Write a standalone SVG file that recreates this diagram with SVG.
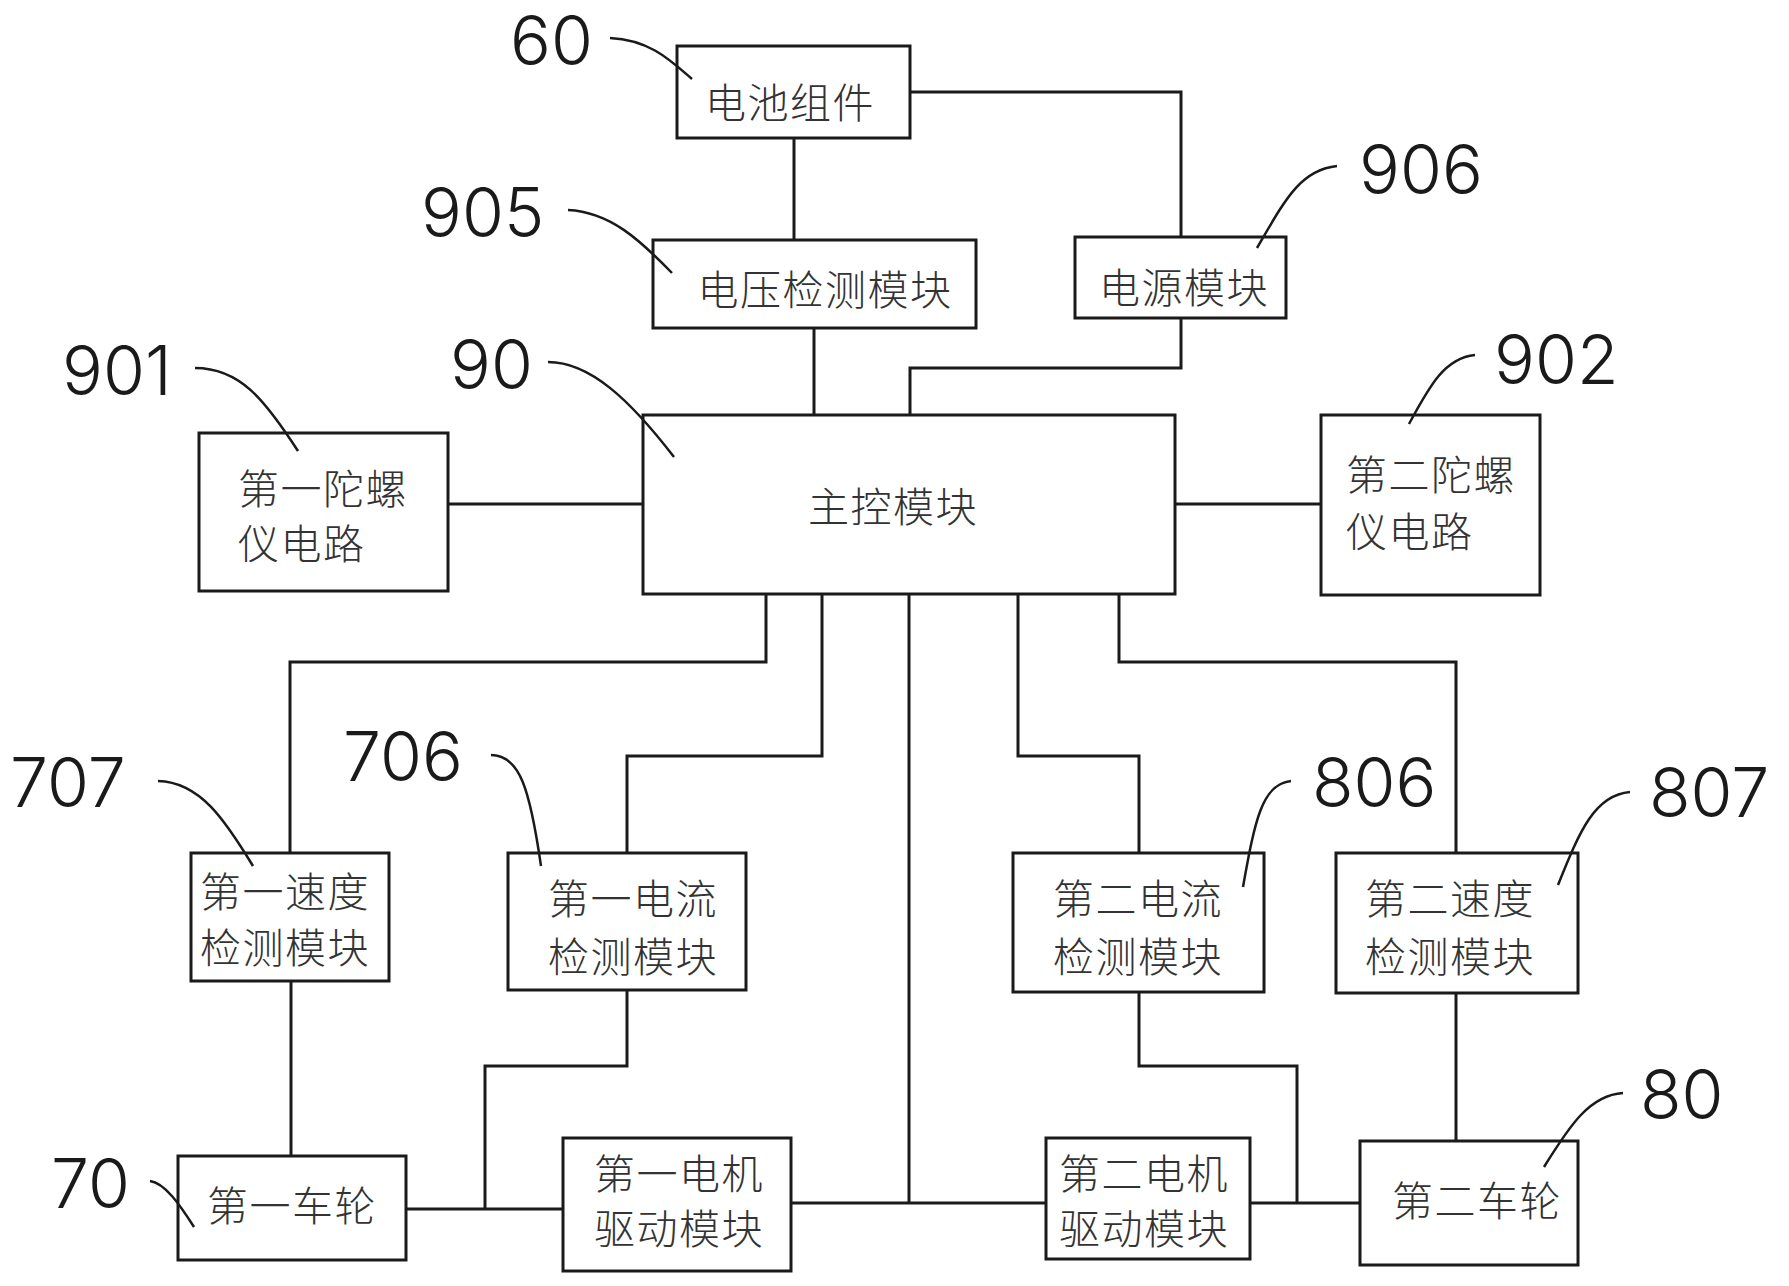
<svg xmlns="http://www.w3.org/2000/svg" width="1789" height="1286" viewBox="0 0 1789 1286">
<style>
.box{fill:#fff;stroke:#1a1a1a;stroke-width:3}
.wire{fill:none;stroke:#1a1a1a;stroke-width:3}
.lead{fill:none;stroke:#1a1a1a;stroke-width:2.5}
.t{font-family:"Noto Sans CJK SC","Noto Sans",sans-serif;font-size:41px;font-weight:300;fill:#333;letter-spacing:1.5px;dominant-baseline:central}
.m{text-anchor:middle}
.n{font-family:"Inter","Open Sans","Liberation Sans",sans-serif;font-size:68px;font-weight:300;fill:#1a1a1a}
</style>
<rect width="1789" height="1286" fill="#fff"/>
<g id="connectors">
<path class="wire" d="M794,138 V240"/>
<path class="wire" d="M910,92 H1181 V237"/>
<path class="wire" d="M1181,318 V368 H910 V415"/>
<path class="wire" d="M814,328 V415"/>
<path class="wire" d="M448,504 H643"/>
<path class="wire" d="M1175,504 H1321"/>
<path class="wire" d="M766,594 V662 H290 V853"/>
<path class="wire" d="M822,594 V756 H627 V853"/>
<path class="wire" d="M291,981 V1156"/>
<path class="wire" d="M627,990 V1066 H485 V1209"/>
<path class="wire" d="M406,1209 H563"/>
<path class="wire" d="M909,594 V1203"/>
<path class="wire" d="M791,1203 H1046"/>
<path class="wire" d="M1018,594 V756 H1139 V853"/>
<path class="wire" d="M1119,594 V662 H1456 V853"/>
<path class="wire" d="M1139,992 V1066 H1297 V1203"/>
<path class="wire" d="M1250,1203 H1360"/>
<path class="wire" d="M1456,993 V1141"/>
</g>
<g id="battery"><rect class="box" x="677" y="46" width="233" height="92"/><text class="t m" x="790" y="100">电池组件</text></g>
<g id="voltage"><rect class="box" x="653" y="240" width="323" height="88"/><text class="t m" x="825" y="287">电压检测模块</text></g>
<g id="power"><rect class="box" x="1075" y="237" width="211" height="81"/><text class="t m" x="1184" y="285">电源模块</text></g>
<g id="main"><rect class="box" x="643" y="415" width="532" height="179"/><text class="t m" x="893" y="504">主控模块</text></g>
<g id="gyro1"><rect class="box" x="199" y="433" width="249" height="158"/><text class="t" x="238" y="486">第一陀螺</text><text class="t" x="238" y="541">仪电路</text></g>
<g id="gyro2"><rect class="box" x="1321" y="415" width="219" height="180"/><text class="t" x="1346" y="472">第二陀螺</text><text class="t" x="1346" y="529">仪电路</text></g>
<g id="speed1"><rect class="box" x="191" y="853" width="198" height="128"/><text class="t" x="200" y="889">第一速度</text><text class="t" x="200" y="945">检测模块</text></g>
<g id="current1"><rect class="box" x="508" y="853" width="238" height="137"/><text class="t" x="548" y="896">第一电流</text><text class="t" x="548" y="954">检测模块</text></g>
<g id="wheel1"><rect class="box" x="178" y="1156" width="228" height="104"/><text class="t m" x="292" y="1203">第一车轮</text></g>
<g id="motor1"><rect class="box" x="563" y="1138" width="228" height="133"/><text class="t" x="594" y="1171">第一电机</text><text class="t" x="594" y="1226">驱动模块</text></g>
<g id="current2"><rect class="box" x="1013" y="853" width="251" height="139"/><text class="t" x="1053" y="896">第二电流</text><text class="t" x="1053" y="954">检测模块</text></g>
<g id="speed2"><rect class="box" x="1336" y="853" width="242" height="140"/><text class="t" x="1365" y="896">第二速度</text><text class="t" x="1365" y="954">检测模块</text></g>
<g id="motor2"><rect class="box" x="1046" y="1138" width="204" height="121"/><text class="t" x="1059" y="1171">第二电机</text><text class="t" x="1059" y="1226">驱动模块</text></g>
<g id="wheel2"><rect class="box" x="1360" y="1141" width="218" height="124"/><text class="t m" x="1477" y="1198">第二车轮</text></g>
<g id="leaders">
<path class="lead" d="M610,38 C650,40 670,60 692,79"/>
<path class="lead" d="M568,210 C610,212 640,240 672,273"/>
<path class="lead" d="M195,368 C240,368 265,400 298,451"/>
<path class="lead" d="M548,362 C590,362 630,400 674,457"/>
<path class="lead" d="M1337,166 C1300,170 1285,200 1257,248"/>
<path class="lead" d="M1475,355 C1445,358 1430,385 1409,424"/>
<path class="lead" d="M158,781 C200,782 225,820 253,866"/>
<path class="lead" d="M491,755 C520,755 530,790 541,866"/>
<path class="lead" d="M150,1181 C165,1183 180,1205 194,1227"/>
<path class="lead" d="M1291,781 C1262,784 1255,820 1243,887"/>
<path class="lead" d="M1630,792 C1595,795 1580,830 1558,885"/>
<path class="lead" d="M1623,1093 C1590,1095 1570,1125 1544,1167"/>
</g>
<g id="labels">
<text class="n" x="510" y="65">60</text>
<text class="n" x="421" y="237">905</text>
<text class="n" x="62" y="395">901</text>
<text class="n" x="450" y="389">90</text>
<text class="n" x="1359" y="194">906</text>
<text class="n" x="1494" y="384">902</text>
<text class="n" x="10" y="807">707</text>
<text class="n" x="343" y="781">706</text>
<text class="n" x="51" y="1208">70</text>
<text class="n" x="1312" y="807">806</text>
<text class="n" x="1649" y="817">807</text>
<text class="n" x="1640" y="1119">80</text>
</g>
</svg>
